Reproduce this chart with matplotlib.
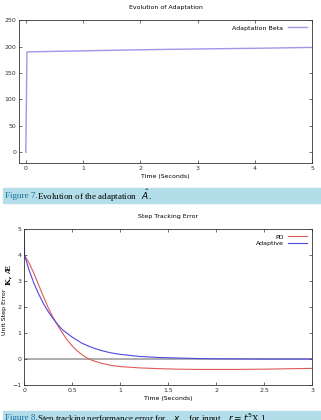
import matplotlib.pyplot as plt
import matplotlib.patches as mpatches

# Data
beta_t = [0.0, 0.02, 0.5, 1.0, 1.5, 2.0, 2.5, 3.0, 3.5, 4.0, 4.5, 5.0]
beta_v = [0.0, 190.0, 191.0, 192.0, 193.0, 194.0, 194.8, 195.5, 196.2, 196.8, 197.6, 198.5]

ad_t = [0.0, 0.003, 0.05, 0.1, 0.15, 0.2, 0.25, 0.3, 0.35, 0.4, 0.5, 0.6, 0.7, 0.8, 0.9,
        1.0, 1.2, 1.4, 1.6, 1.8, 2.0, 2.5, 3.0]
ad_v = [5.0, 4.0, 3.42, 2.92, 2.5, 2.13, 1.82, 1.56, 1.32, 1.12, 0.84, 0.61, 0.45, 0.33, 0.24,
        0.18, 0.1, 0.06, 0.04, 0.02, 0.01, 0.0, 0.0]

pd_t = [0.0, 0.05, 0.1, 0.15, 0.2, 0.25, 0.3, 0.35, 0.4, 0.45, 0.5, 0.55, 0.6, 0.65, 0.7,
        0.8, 0.9, 1.0, 1.2, 1.4, 1.6, 1.8, 2.0, 2.2, 2.5, 2.8, 3.0]
pd_v = [4.0, 3.7, 3.3, 2.85, 2.4, 1.97, 1.6, 1.28, 0.99, 0.72, 0.5, 0.32, 0.17, 0.05, -0.04,
        -0.16, -0.24, -0.29, -0.34, -0.37, -0.39, -0.40, -0.40, -0.40, -0.39, -0.37, -0.36]

top_xticks = [0, 1, 2, 3, 4, 5]
top_yticks = [0, 50, 100, 150, 200, 250]
bot_xticks = [0, 0.5, 1, 1.5, 2, 2.5, 3]
bot_xlabels = ['0', '0.5', '1', '1.5', '2', '2.5', '3']
bot_yticks = [-1, 0, 1, 2, 3, 4, 5]

fig = plt.figure(figsize=(3.21, 4.20), dpi=100)
fig.patch.set_facecolor('white')

fs = 4.5


def gnuplot_style(ax):
    for s in ax.spines.values():
        s.set_linewidth(0.6)
        s.set_color('#333333')
    ax.tick_params(direction='in', length=2, width=0.5, labelsize=fs, pad=2,
                   top=True, right=True, colors='#333333')


# Top chart
ax1 = fig.add_axes([0.059, 0.612, 0.913, 0.340])
ax1.plot(beta_t, beta_v, color='#a096ea', lw=1.0, label='Adaptation Beta')
ax1.set_xlim(-0.12, 5)
ax1.set_ylim(-20, 250)
ax1.set_xticks(top_xticks)
ax1.set_yticks(top_yticks)
ax1.set_title('Evolution of Adaptation', fontsize=fs, pad=8)
ax1.set_xlabel('Time (Seconds)', fontsize=fs, labelpad=2)
gnuplot_style(ax1)
ax1.legend(loc='upper right', fontsize=fs, frameon=False, markerfirst=False,
           handlelength=3, borderaxespad=0.4)

# Bottom chart
ax2 = fig.add_axes([0.0757, 0.0833, 0.897, 0.371])
ax2.axhline(0, color='#a0a0a0', lw=1.2, zorder=1)
ax2.plot(pd_t, pd_v, color='#e05a5a', lw=0.8, label='PD', zorder=2)
ax2.plot(ad_t, ad_v, color='#4f4ade', lw=0.8, label='Adaptive', zorder=2)
ax2.set_xlim(0, 3)
ax2.set_ylim(-1, 5)
ax2.set_xticks(bot_xticks)
ax2.set_xticklabels(bot_xlabels)
ax2.set_yticks(bot_yticks)
ax2.set_title('Step Tracking Error', fontsize=fs, pad=8)
ax2.set_xlabel('Time (Seconds)', fontsize=fs, labelpad=2)
ax2.set_ylabel('Unit Step Error', fontsize=fs, labelpad=2)
ax2.yaxis.set_label_coords(-0.06, 0.47)
fig.text(0.027, 0.346, 'K, Æ', rotation=90, fontsize=5.5, family='DejaVu Serif',
         fontweight='bold', ha='center', va='center')
gnuplot_style(ax2)
ax2.legend(loc='upper right', fontsize=fs, frameon=False, markerfirst=False,
           handlelength=3, borderaxespad=0.4, labelspacing=0.2)

# Caption bands
band = '#b3dde8'
fig.patches.append(mpatches.Rectangle((0.01, 1 - 203 / 420), 0.99, 15 / 420,
                                      transform=fig.transFigure, color=band, zorder=0))
fig.patches.append(mpatches.Rectangle((0.01, 0.0), 0.99, 9 / 420,
                                      transform=fig.transFigure, color=band, zorder=0))

fig.text(0.015, 1 - 196 / 420, 'Figure 7.', fontsize=6.5, family='Liberation Serif',
         color='#1b6f9c', va='center')
fig.text(0.115, 1 - 196 / 420, 'Evolution of the adaptation   $\\hat{A}$.', fontsize=6.5,
         family='Liberation Serif', color='black', va='center')

fig.text(0.015, 0.004, 'Figure 8.', fontsize=6.5, family='Liberation Serif',
         color='#1b6f9c', va='center')
fig.text(0.115, 0.004, 'Step tracking performance error for    $x$    for input    $r = t^{5}$X 1',
         fontsize=6.5, family='Liberation Serif', color='black', va='center')

fig.savefig('out.png', dpi=100)
